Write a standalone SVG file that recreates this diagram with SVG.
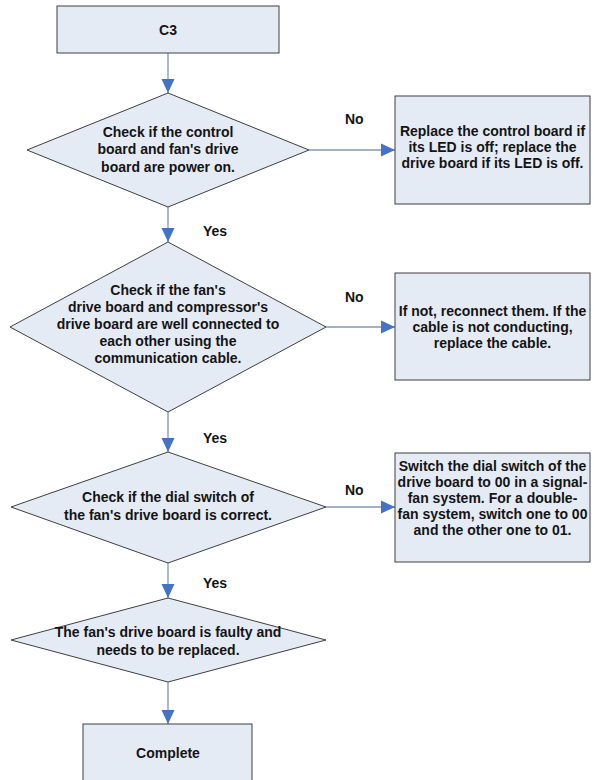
<svg xmlns="http://www.w3.org/2000/svg" width="594" height="780" viewBox="0 0 594 780">
  <style>
    .shape { fill: #e5ebf4; stroke: #3f3f3f; stroke-width: 1; }
    .link { fill: none; stroke: #7f98b8; stroke-width: 1.3; }
    text { font-family: "Liberation Sans", Arial, sans-serif; font-size: 14px; font-weight: bold; fill: #141414; }
    .c { text-anchor: middle; }
  </style>
  <defs>
    <marker id="arrow" markerUnits="userSpaceOnUse" markerWidth="14" markerHeight="14" refX="14" refY="7" orient="auto">
      <path d="M0,0.5 L14,7 L0,13.5 Z" fill="#4472c4"/>
    </marker>
  </defs>
  <rect width="594" height="780" fill="#ffffff"/>

  <!-- connectors -->
  <g id="connectors">
    <line class="link" x1="168" y1="53" x2="168" y2="93" marker-end="url(#arrow)"/>
    <line class="link" x1="168" y1="207" x2="168" y2="242" marker-end="url(#arrow)"/>
    <line class="link" x1="168" y1="412" x2="168" y2="452" marker-end="url(#arrow)"/>
    <line class="link" x1="168" y1="563" x2="168" y2="598" marker-end="url(#arrow)"/>
    <line class="link" x1="168" y1="682" x2="168" y2="724" marker-end="url(#arrow)"/>
    <line class="link" x1="309" y1="150" x2="395" y2="150" marker-end="url(#arrow)"/>
    <line class="link" x1="326" y1="327" x2="395" y2="327" marker-end="url(#arrow)"/>
    <line class="link" x1="326" y1="507" x2="395" y2="507" marker-end="url(#arrow)"/>
    <text x="203" y="236">Yes</text>
    <text x="203" y="443">Yes</text>
    <text x="203" y="588">Yes</text>
    <text x="345" y="124">No</text>
    <text x="345" y="302">No</text>
    <text x="345" y="495">No</text>
  </g>

  <g id="start">
    <rect class="shape" x="57" y="6" width="222" height="47"/>
    <text class="c" x="168" y="35">C3</text>
  </g>

  <g id="check-power">
    <polygon class="shape" points="168,93 309,150 168,207 27,150"/>
    <text class="c" x="168" y="137">Check if the control</text>
    <text class="c" x="168" y="154">board and fan's drive</text>
    <text class="c" x="168" y="172">board are power on.</text>
  </g>

  <g id="replace-board">
    <rect class="shape" x="395" y="96" width="195" height="108"/>
    <text class="c" x="492.5" y="136">Replace the control board if</text>
    <text class="c" x="492.5" y="152">its LED is off; replace the</text>
    <text class="c" x="492.5" y="168">drive board if its LED is off.</text>
  </g>

  <g id="check-cable">
    <polygon class="shape" points="168,242 326,327 168,412 10,327"/>
    <text class="c" x="168" y="295">Check if the fan's</text>
    <text class="c" x="168" y="312">drive board and compressor's</text>
    <text class="c" x="168" y="329">drive board are well connected to</text>
    <text class="c" x="168" y="346">each other using the</text>
    <text class="c" x="168" y="363">communication cable.</text>
  </g>

  <g id="reconnect">
    <rect class="shape" x="395" y="273" width="195" height="107"/>
    <text class="c" x="492.5" y="316">If not, reconnect them. If the</text>
    <text class="c" x="492.5" y="332">cable is not conducting,</text>
    <text class="c" x="492.5" y="348">replace the cable.</text>
  </g>

  <g id="check-dial">
    <polygon class="shape" points="168,452 326,507 168,563 11,507"/>
    <text class="c" x="168" y="502">Check if the dial switch of</text>
    <text class="c" x="168" y="520">the fan's drive board is correct.</text>
  </g>

  <g id="set-dial">
    <rect class="shape" x="395" y="453" width="195" height="109"/>
    <text class="c" x="492.5" y="471">Switch the dial switch of the</text>
    <text class="c" x="492.5" y="487">drive board to 00 in a signal-</text>
    <text class="c" x="492.5" y="503">fan system. For a double-</text>
    <text class="c" x="492.5" y="519">fan system, switch one to 00</text>
    <text class="c" x="492.5" y="535">and the other one to 01.</text>
  </g>

  <g id="replace-fan-board">
    <polygon class="shape" points="168,598 326,640 168,682 11,640"/>
    <text class="c" x="168" y="637">The fan's drive board is faulty and</text>
    <text class="c" x="168" y="655">needs to be replaced.</text>
  </g>

  <g id="complete">
    <rect class="shape" x="83" y="724" width="169" height="60"/>
    <text class="c" x="168" y="758">Complete</text>
  </g>
</svg>
